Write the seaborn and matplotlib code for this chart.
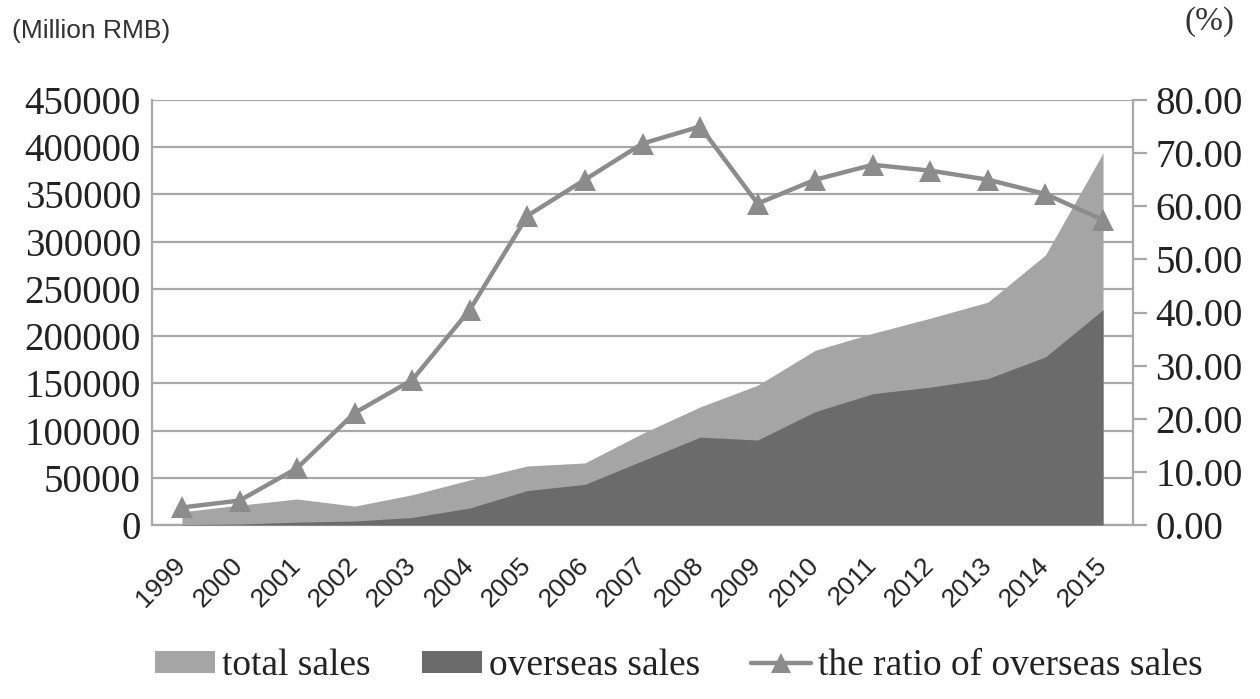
import matplotlib
matplotlib.use("Agg")
import matplotlib.pyplot as plt
import seaborn as sns
import numpy as np
import pandas as pd
from matplotlib.patches import Patch
from matplotlib.lines import Line2D

years = [1999, 2000, 2001, 2002, 2003, 2004, 2005, 2006, 2007, 2008,
         2009, 2010, 2011, 2012, 2013, 2014, 2015]
total_sales = [14000, 21000, 27500, 20000, 32000, 47700, 62500, 65700, 97000,
               125000, 148000, 185000, 203000, 219000, 236000, 286000, 394000]
overseas_sales = [500, 1100, 3000, 4200, 8000, 18000, 36500, 43000, 68000,
                  93000, 90000, 120000, 139000, 146000, 155000, 178000, 228000]
ratio = [3.3, 4.6, 10.7, 21.1, 27.3, 40.5, 58.2, 65.0, 71.8, 75.0,
         60.5, 65.0, 67.8, 66.7, 65.0, 62.3, 57.4]
left_ticks = [0, 50000, 100000, 150000, 200000, 250000, 300000, 350000, 400000, 450000]
right_ticks = [0, 10, 20, 30, 40, 50, 60, 70, 80]

df = pd.DataFrame({"year": years, "total": total_sales,
                   "overseas": overseas_sales, "ratio": ratio})

sns.set_theme(style="white")
plt.rcParams["font.family"] = ["Liberation Serif", "DejaVu Serif"]

C_TOTAL = "#a5a5a5"
C_OVER = "#6b6b6b"
C_LINE = "#8c8c8c"
C_GRID = "#a8a8a8"
C_TEXT = "#222222"

fig = plt.figure(figsize=(12.6, 6.99), dpi=100)
ax = fig.add_axes([152 / 1260, 1 - 525 / 699, (1133 - 152) / 1260, (525 - 100) / 699])

ax.fill_between(df["year"], 0, df["total"], color=C_TOTAL, lw=0, zorder=2)
ax.fill_between(df["year"], 0, df["overseas"], color=C_OVER, lw=0, zorder=3)

ax.set_xlim(1998.48, 2015.52)
ax.set_ylim(0, 450000)
ax.set_yticks(left_ticks)
ax.set_yticklabels([str(v) for v in left_ticks])
ax.yaxis.grid(True, color=C_GRID, lw=1.6, zorder=1)
ax.set_axisbelow(True)
ax.set_xticks(years)
ax.set_xticklabels([str(y) for y in years], rotation=45, ha="right", va="center",
                   rotation_mode="anchor", family=["Liberation Sans", "DejaVu Sans"],
                   fontsize=19, color=C_TEXT)
ax.tick_params(axis="x", length=0, pad=26)
ax.tick_params(axis="y", length=0, pad=8, labelsize=28, labelcolor=C_TEXT)
for s in ["left", "bottom", "right"]:
    ax.spines[s].set_color(C_GRID)
    ax.spines[s].set_linewidth(1.6)
ax.spines["top"].set_visible(False)
ax.set_xlabel("")
ax.set_ylabel("")

ax2 = ax.twinx()
sns.lineplot(data=df, x="year", y="ratio", ax=ax2, color=C_LINE, lw=3.2,
             marker="^", markersize=16, markeredgewidth=0, markerfacecolor=C_LINE,
             zorder=5)
ax2.set_ylim(0, 80)
ax2.set_yticks(right_ticks)
ax2.set_yticklabels([f"{v:.2f}" for v in right_ticks])
ax2.tick_params(axis="y", direction="out", length=10, width=1.6, color=C_GRID,
                pad=6, labelsize=28, labelcolor=C_TEXT)
ax2.grid(False)
for s in ["left", "bottom", "right", "top"]:
    ax2.spines[s].set_visible(False)
ax2.set_xlabel("")
ax2.set_ylabel("")
ax2.set_xlim(1998.48, 2015.52)

fig.text(12 / 1260, 1 - 31 / 699, "(Million RMB)", family=["Liberation Sans", "DejaVu Sans"],
         fontsize=19, color="#333333", va="center", ha="left")
fig.text(1210 / 1260, 1 - 22 / 699, "(%)", fontsize=24, color="#333333",
         va="center", ha="center")

handles = [Patch(facecolor=C_TOTAL, edgecolor="none"),
           Patch(facecolor=C_OVER, edgecolor="none"),
           Line2D([0], [0], color=C_LINE, lw=3.2, marker="^", markersize=14,
                  markeredgewidth=0)]
labels = ["total sales", "overseas sales", "the ratio of overseas sales"]
fig.legend(handles, labels, loc="center", bbox_to_anchor=(679 / 1260, 1 - 666 / 699),
           ncol=3, frameon=False, fontsize=27, handlelength=1.6, handleheight=0.5,
           handletextpad=0.2, columnspacing=1.35, labelcolor=C_TEXT)

fig.savefig("out.png", dpi=100)
